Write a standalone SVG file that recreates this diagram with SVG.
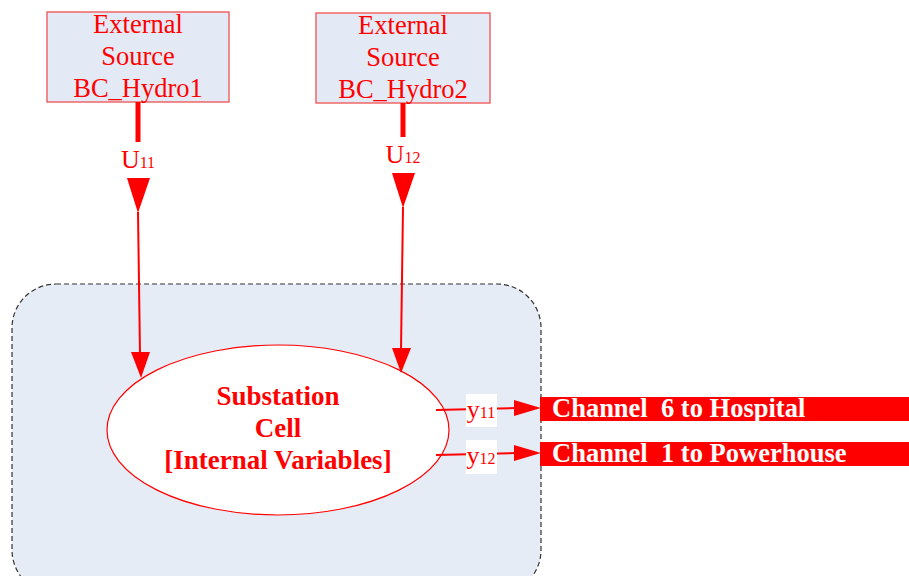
<svg xmlns="http://www.w3.org/2000/svg" width="909" height="576" viewBox="0 0 909 576">
<style>
.src{fill:#e4eaf5;stroke:#f05050;stroke-width:1.3}
.t{font-family:"Liberation Serif","Times New Roman",serif;fill:#ff0000;text-anchor:middle}
.st{font-size:26.5px}
.bt{font-size:27px;font-weight:bold}
.ch{font-family:"Liberation Serif","Times New Roman",serif;font-size:26.5px;font-weight:bold;fill:#ffffff}
.thick{stroke:#ff0000;stroke-width:5;fill:none}
.thin{stroke:#ff0000;stroke-width:2;fill:none}
.head{fill:#ff0000}
</style>
<g id="cell-boundary">
<rect x="12" y="284" width="529" height="310" rx="44" ry="44" fill="#e6ecf6" stroke="#333" stroke-width="1.2" stroke-dasharray="5,3"/>
</g>
<g id="source1">
<rect class="src" x="47" y="12" width="182" height="90"/>
<text class="t st" x="138" y="33">External</text>
<text class="t st" x="138" y="65">Source</text>
<text class="t st" x="138" y="97">BC_Hydro1</text>
</g>
<g id="source2">
<rect class="src" x="316" y="13" width="174" height="90"/>
<text class="t st" x="403" y="34">External</text>
<text class="t st" x="403" y="66">Source</text>
<text class="t st" x="403" y="98">BC_Hydro2</text>
</g>
<g id="substation">
<ellipse cx="278" cy="430" rx="171" ry="85" fill="#ffffff" stroke="#ff0000" stroke-width="1.2"/>
<text class="t bt" x="278" y="405">Substation</text>
<text class="t bt" x="278" y="437">Cell</text>
<text class="t bt" x="278" y="469">[Internal Variables]</text>
</g>
<g id="channel6">
<rect x="540" y="397" width="369" height="24" fill="#ff0000"/>
<text class="ch" x="552" y="417" xml:space="preserve">Channel  6 to Hospital</text>
</g>
<g id="channel1">
<rect x="540" y="442" width="369" height="24" fill="#ff0000"/>
<text class="ch" x="552" y="462" xml:space="preserve">Channel  1 to Powerhouse</text>
</g>
<g id="connectors">
<line class="thick" x1="138" y1="102" x2="138" y2="142"/>
<polygon class="head" points="127,178 150,178 138,213"/>
<path class="thin" d="M138,212 L140,355"/>
<polygon class="head" points="131,352 150,352 141,378"/>
<text class="t" x="138" y="168"><tspan font-size="26">U</tspan><tspan font-size="16">11</tspan></text>

<line class="thick" x1="403" y1="103" x2="403" y2="137"/>
<polygon class="head" points="392,173 415,173 403,208"/>
<path class="thin" d="M403,207 L401,350"/>
<polygon class="head" points="392,348 411,348 401,373"/>
<text class="t" x="403" y="163"><tspan font-size="26">U</tspan><tspan font-size="16">12</tspan></text>

<path class="thin" d="M436,410 L516,408"/>
<polygon class="head" points="514,400 514,416 541,408"/>
<rect x="466" y="394" width="31" height="33" fill="#ffffff"/>
<text class="t" x="481" y="418"><tspan font-size="26">y</tspan><tspan font-size="16">11</tspan></text>

<path class="thin" d="M436,455 L516,453"/>
<polygon class="head" points="514,445 514,461 541,453"/>
<rect x="466" y="440" width="31" height="34" fill="#ffffff"/>
<text class="t" x="481" y="464"><tspan font-size="26">y</tspan><tspan font-size="16">12</tspan></text>
</g>
</svg>
